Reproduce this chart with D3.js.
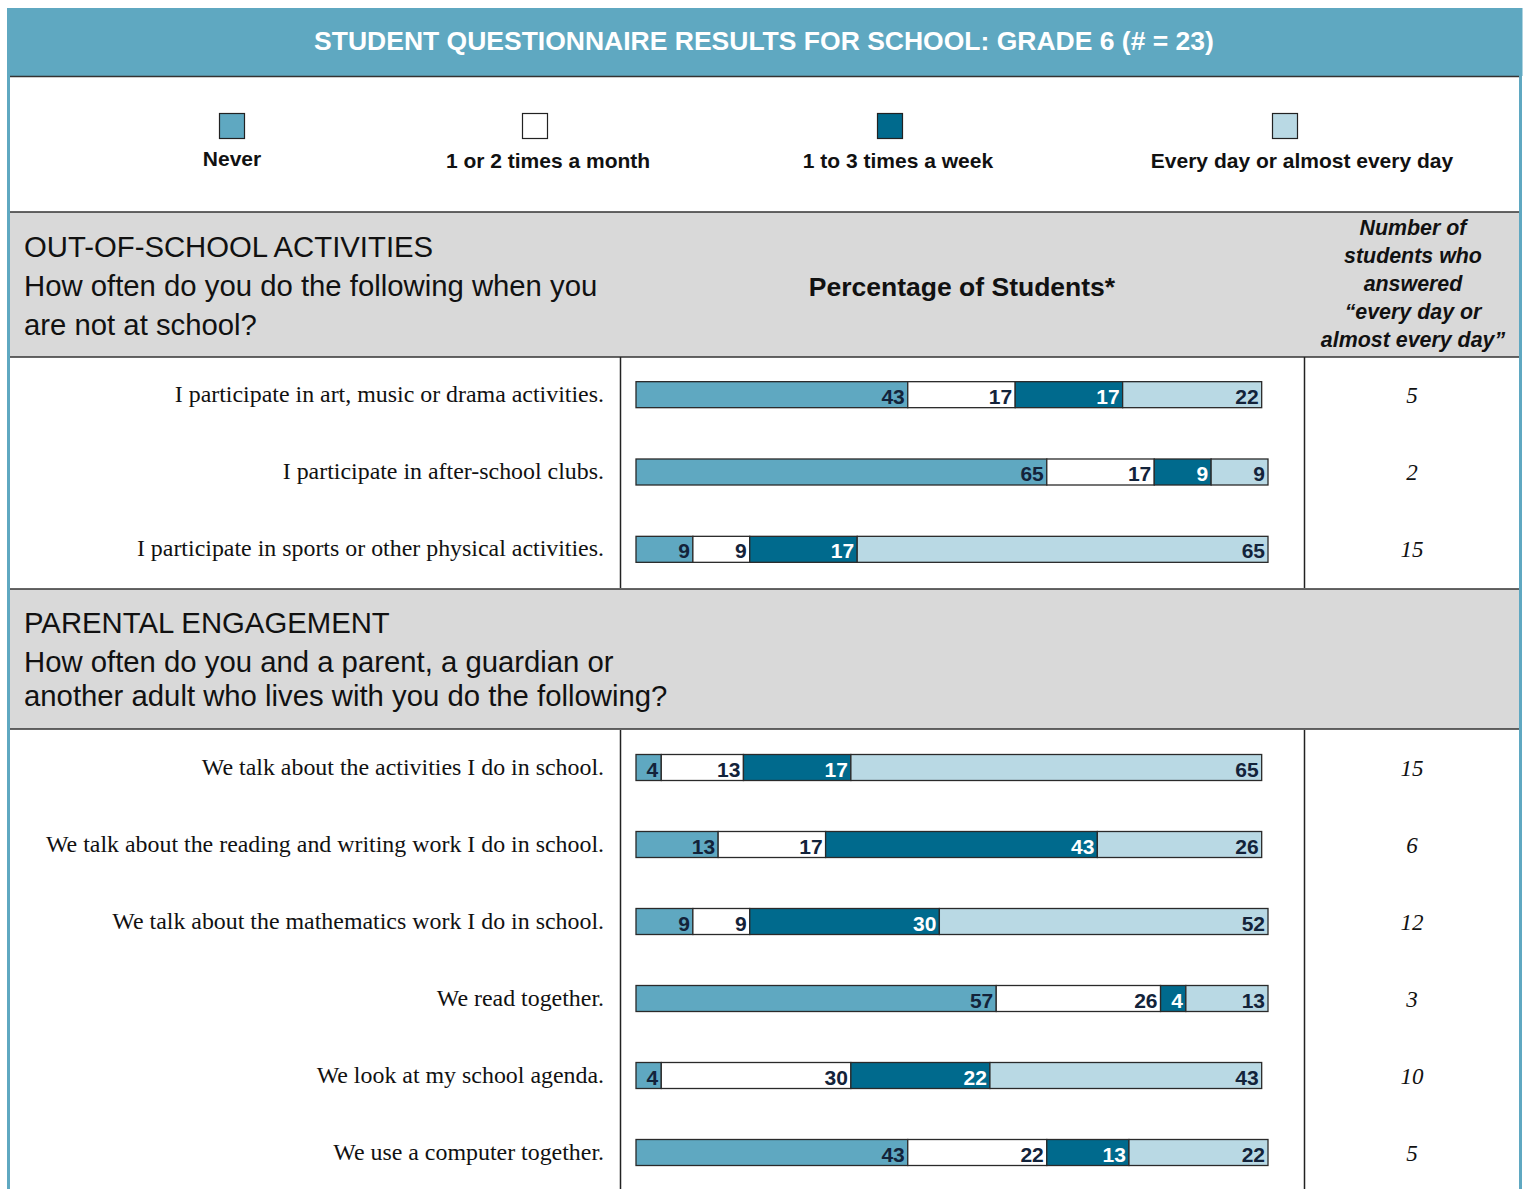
<!DOCTYPE html>
<html>
<head>
<meta charset="utf-8">
<script src="https://cdn.jsdelivr.net/npm/d3@7"></script>
<style>
  html, body { margin: 0; padding: 0; background: #fff; }
  svg { display: block; }
</style>
</head>
<body>
<svg id="chart" width="1528" height="1189"></svg>
<script>
// Response categories and their fills
const categories = ["Never", "1 or 2 times a month", "1 to 3 times a week", "Every day or almost every day"];
const categoryColors = ["#5fa8c1", "#ffffff", "#006a8d", "#b9d9e4"];
const labelColors = ["#13233a", "#13233a", "#ffffff", "#13233a"];

// Out-of-school activities
const activityItems = [
  "I participate in art, music or drama activities.",
  "I participate in after-school clubs.",
  "I participate in sports or other physical activities."
];
const activityValues = [
  [43, 17, 17, 22],
  [65, 17, 9, 9],
  [9, 9, 17, 65]
];
const activityCounts = [5, 2, 15];

// Parental engagement
const parentItems = [
  "We talk about the activities I do in school.",
  "We talk about the reading and writing work I do in school.",
  "We talk about the mathematics work I do in school.",
  "We read together.",
  "We look at my school agenda.",
  "We use a computer together."
];
const parentValues = [
  [4, 13, 17, 65],
  [13, 17, 43, 26],
  [9, 9, 30, 52],
  [57, 26, 4, 13],
  [4, 30, 22, 43],
  [43, 22, 13, 22]
];
const parentCounts = [15, 6, 12, 3, 10, 5];

const svg = d3.select("#chart");
const frameL = 8.5, frameR = 1520.5;
const teal = "#5fa8c1";
const gray = "#d9d9d9";
const sans = "'Liberation Sans', Arial, Helvetica, sans-serif";
const serif = "'Liberation Serif', 'Times New Roman', serif";
const narrow = "'Liberation Sans Narrow', 'Arial Narrow', 'Liberation Sans', sans-serif";

// Title band
svg.append("rect").attr("x", 7).attr("y", 8).attr("width", frameR - 7 + 2).attr("height", 68).attr("fill", teal);
svg.append("text").attr("x", 764).attr("y", 50).attr("text-anchor", "middle")
  .attr("font-family", sans).attr("font-weight", "bold").attr("font-size", 26.5).attr("fill", "#fff")
  .text("STUDENT QUESTIONNAIRE RESULTS FOR SCHOOL: GRADE 6 (# = 23)");

// Legend
const legend = svg.append("g");
categories.forEach((c, i) => {
  const boxX = [219, 522, 877, 1272][i];
  legend.append("rect").attr("x", boxX + 0.5).attr("y", 113.5).attr("width", 25).attr("height", 25)
    .attr("fill", categoryColors[i]).attr("stroke", "#222").attr("stroke-width", 1.2);
  legend.append("text").attr("x", [232, 548, 898, 1302][i]).attr("y", [166, 168, 168, 168][i])
    .attr("text-anchor", "middle").attr("font-family", sans).attr("font-weight", "bold")
    .attr("font-size", 21).attr("fill", "#111").text(c);
});

// Section header panels
function headerPanel(y0, y1) {
  svg.append("rect").attr("x", frameL + 1).attr("y", y0).attr("width", frameR - frameL - 2).attr("height", y1 - y0).attr("fill", gray);
  svg.append("line").attr("x1", frameL).attr("x2", frameR).attr("y1", y0).attr("y2", y0).attr("stroke", "#333").attr("stroke-width", 1.5);
  svg.append("line").attr("x1", frameL).attr("x2", frameR).attr("y1", y1).attr("y2", y1).attr("stroke", "#333").attr("stroke-width", 1.5);
}
headerPanel(212, 357);
headerPanel(589, 729);

function headerLines(lines, ys) {
  lines.forEach((t, i) => svg.append("text").attr("x", 24).attr("y", ys[i])
    .attr("font-family", sans).attr("font-size", 29.3).attr("fill", "#111").text(t));
}
headerLines(["OUT-OF-SCHOOL ACTIVITIES", "How often do you do the following when you", "are not at school?"], [257, 296, 335]);
headerLines(["PARENTAL ENGAGEMENT", "How often do you and a parent, a guardian or", "another adult who lives with you do the following?"], [633, 672, 706]);

svg.append("text").attr("x", 962).attr("y", 296).attr("text-anchor", "middle")
  .attr("font-family", sans).attr("font-weight", "bold").attr("font-size", 26.5).attr("fill", "#111")
  .text("Percentage of Students*");

const countHead = ["Number of", "students who", "answered", "\u201cevery day or", "almost every day\u201d"];
countHead.forEach((t, i) => svg.append("text").attr("x", 1413).attr("y", 235 + i * 28)
  .attr("text-anchor", "middle").attr("font-family", sans).attr("font-weight", "bold")
  .attr("font-style", "italic").attr("font-size", 21.4).attr("fill", "#111").text(t));

// Shared horizontal scale for the stacked bars
const x = d3.scaleLinear().domain([0, 100]).range([636, 1268]);
const barH = 26;

function section(items, values, counts, y0, y1) {
  const y = d3.scaleBand().domain(items).range([y0, y1]).padding(0);
  // column dividers
  svg.append("line").attr("x1", 620.5).attr("x2", 620.5).attr("y1", y0 + 1).attr("y2", y1)
    .attr("stroke", "#222").attr("stroke-width", 1.5);
  svg.append("line").attr("x1", 1304.5).attr("x2", 1304.5).attr("y1", y0 + 1).attr("y2", y1)
    .attr("stroke", "#222").attr("stroke-width", 1.5);

  const g = svg.append("g");
  items.forEach((item, r) => {
    const cy = y(item) + y.bandwidth() / 2;
    g.append("text").attr("x", 604).attr("y", cy + 7).attr("text-anchor", "end")
      .attr("font-family", serif).attr("font-size", 23.9).attr("fill", "#111").text(item);

    const stack = d3.cumsum(values[r]);
    const segs = values[r].map((v, i) => ({ v, i, a: i ? stack[i - 1] : 0, b: stack[i] }));
    const row = g.append("g");
    row.selectAll("rect").data(segs).join("rect")
      .attr("x", d => x(d.a)).attr("width", d => x(d.b) - x(d.a))
      .attr("y", cy - barH / 2).attr("height", barH)
      .attr("fill", d => categoryColors[d.i]).attr("stroke", "#2a2a2a").attr("stroke-width", 1.3);
    row.selectAll("text").data(segs).join("text")
      .attr("x", d => x(d.b) - 3).attr("y", cy + 9).attr("text-anchor", "end")
      .attr("font-family", narrow).attr("font-weight", "bold").attr("font-size", 21)
      .attr("fill", d => labelColors[d.i]).text(d => d.v);

    g.append("text").attr("x", 1412).attr("y", cy + 8).attr("text-anchor", "middle")
      .attr("font-family", serif).attr("font-style", "italic").attr("font-size", 23)
      .attr("fill", "#111").text(counts[r]);
  });
}
section(activityItems, activityValues, activityCounts, 356, 588);
section(parentItems, parentValues, parentCounts, 729, 1191);

// Outer frame borders
svg.append("line").attr("x1", frameL).attr("x2", frameR).attr("y1", 76.5).attr("y2", 76.5).attr("stroke", "#333").attr("stroke-width", 1.5);
svg.append("rect").attr("x", 7).attr("y", 8).attr("width", 3).attr("height", 1189 - 8).attr("fill", teal);
svg.append("rect").attr("x", 1519).attr("y", 8).attr("width", 3).attr("height", 1189 - 8).attr("fill", teal);
</script>
</body>
</html>
